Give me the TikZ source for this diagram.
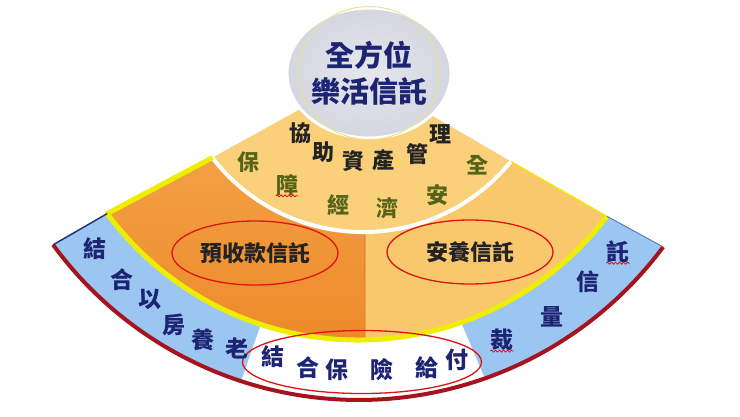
\documentclass[tikz,border=0pt]{standalone}
\usepackage{fontspec}
\newfontfamily\cjk{Noto Sans CJK TC}
\usetikzlibrary{shapes.geometric,decorations.pathmorphing}

\definecolor{ringblue}{RGB}{156,198,242}
\definecolor{orangetop}{RGB}{243,160,68}
\definecolor{orangebot}{RGB}{237,138,42}
\definecolor{midlight}{RGB}{250,200,108}
\definecolor{innerfill}{RGB}{250,208,122}
\definecolor{rimyellow}{RGB}{238,238,0}
\definecolor{rimred}{RGB}{165,20,30}
\definecolor{navyedge}{RGB}{40,50,120}
\definecolor{navytext}{RGB}{28,36,115}
\definecolor{greentext}{RGB}{85,100,25}
\definecolor{darktext}{RGB}{35,35,35}
\definecolor{ovalred}{RGB}{220,20,20}
\definecolor{hubgrey}{RGB}{212,215,224}
\definecolor{hubrim}{RGB}{235,225,150}

\begin{document}
\begin{tikzpicture}[x=1pt,y=-1pt,
  hub/.style={ellipse, minimum width=138pt, minimum height=130pt, inner sep=0pt,
    inner color=hubgrey!60!white, outer color=hubgrey, draw=white, line width=3pt,
    text=navytext, align=center, font={\cjk\bfseries\fontsize{29}{36}\selectfont}},
  oval/.style={ellipse, draw=ovalred, line width=1.3pt, inner sep=0pt,
    text=darktext, font={\cjk\bfseries\fontsize{22}{22}\selectfont}},
  bandchar/.style={inner sep=0pt, text=navytext, font={\cjk\bfseries\fontsize{23}{23}\selectfont}},
  helpchar/.style={inner sep=0pt, text=darktext, font={\cjk\bfseries\fontsize{22}{22}\selectfont}},
  safechar/.style={inner sep=0pt, text=greentext, font={\cjk\bfseries\fontsize{22}{22}\selectfont}},
  squiggle/.style={ovalred, line width=0.8pt, decorate,
    decoration={snake, amplitude=1pt, segment length=4pt}}]

	\useasboundingbox (0,0) rectangle (740,416);

	% outer band
	\fill[ringblue] (53.1,244.8) arc[start angle=143.8, end angle=36.6, radius=379]
		-- (606.9,216.2) arc[start angle=37.1, end angle=143.5, radius=312] -- cycle;
	\fill[white] (241,381.5) arc[start angle=108.12, end angle=70.58, radius=379]
		-- (461,322.5) arc[start angle=70.72, end angle=108.13, radius=312] -- cycle;

	% middle band
	\shade[top color=orangetop, bottom color=orangebot] (107.2,213.6) arc[start angle=143.5, end angle=88.7, radius=312]
		-- (365,232) arc[start angle=89.4, end angle=142.5, radius=190] -- cycle;
	\fill[midlight] (365.1,339.9) arc[start angle=88.7, end angle=37.1, radius=312]
		-- (510.9,161.3) arc[start angle=38.9, end angle=89.4, radius=190] -- cycle;
	\draw[orangebot!80!black, line width=0.6pt] (365.1,339.9) -- (365,232);

	% inner sector
	\fill[innerfill] (212.3,157.7) arc[start angle=142.5, end angle=38.9, radius=190] -- (362,75) -- cycle;
	\draw[white, line width=4pt] (212.3,157.7) arc[start angle=142.5, end angle=38.9, radius=190];

	% rims
	\draw[rimyellow, line width=5pt, line join=round] (212.3,157.7) -- (107.2,213.6)
		arc[start angle=143.5, end angle=37.1, radius=312];
	\draw[rimyellow, line width=1.2pt] (606.9,216.2) -- (510.9,161.3);
	\draw[rimred, line width=4pt] (53.1,244.8) arc[start angle=143.8, end angle=36.6, radius=379];
	\draw[navyedge, line width=1.5pt] (53.1,244.8) -- (107.2,213.6);
	\draw[navyedge!50!ringblue, line width=1pt] (606.9,216.2) -- (663.3,247);

	\node[hub] (hub) at (369,73) {全方位\\樂活信託};
	\draw[hubrim, line width=1pt] (hub.center) ellipse [x radius=70.5, y radius=66.5];

	\foreach \ch/\px/\py [count=\i] in {協/300/133, 助/323/152, 資/353/161, 產/383/160, 管/417/154, 理/440/134}
		\node[helpchar] (help-\i) at (\px,\py) {\ch};
	\foreach \ch/\px/\py [count=\i] in {保/248/162, 障/287/185, 經/338/205, 濟/387/208, 安/437/195, 全/477/165}
		\node[safechar] (safe-\i) at (\px,\py) {\ch};

	\node[oval, minimum width=166pt, minimum height=64pt] (prepaid) at (255,253) {預收款信託};
	\node[oval, minimum width=166pt, minimum height=64pt] (care) at (470,252) {安養信託};
	\node[oval, minimum width=239pt, minimum height=63pt] (insure) at (362,362) {};

	\foreach \ch/\px/\py [count=\i] in {結/95/249, 合/122/280, 以/150/299, 房/174/325, 養/203/340, 老/237/348}
		\node[bandchar] (house-\i) at (\px,\py) {\ch};
	\foreach \ch/\px/\py [count=\i] in {託/618/252, 信/588/282, 量/552/317, 裁/502/340}
		\node[bandchar] (trust-\i) at (\px,\py) {\ch};
	\foreach \ch/\px/\py [count=\i] in {結/273/357, 合/308/368, 保/337/370, 險/382/370, 給/427/368, 付/457/360}
		\node[bandchar] (pay-\i) at (\px,\py) {\ch};

	\draw[squiggle] (safe-2.south west) -- (safe-2.south east);
	\draw[squiggle] (trust-1.south west) -- (trust-1.south east);
	\draw[squiggle] (trust-4.south west) -- (trust-4.south east);

\end{tikzpicture}
\end{document}
